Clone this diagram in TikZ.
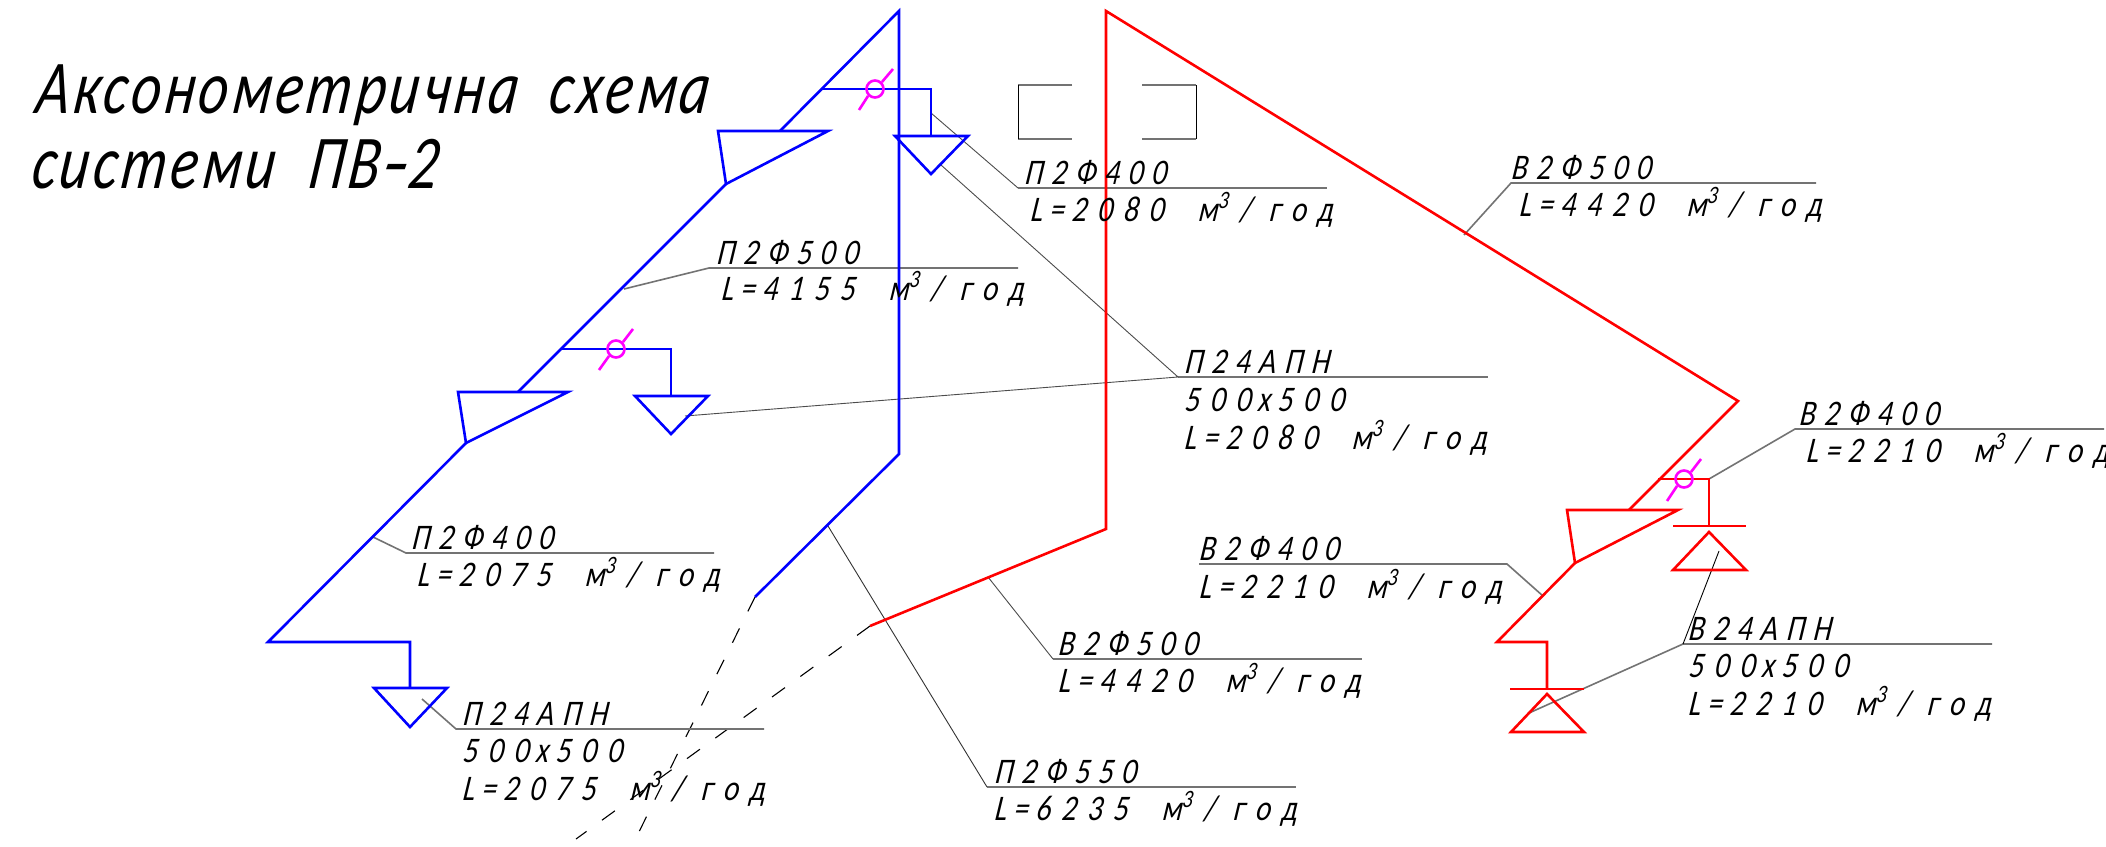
\documentclass[tikz,border=0pt]{standalone}
\usepackage{fontspec}
\newfontfamily\lblfont{Carlito}[LetterSpace=30,FakeSlant=0.14,FakeStretch=0.82]
\newfontfamily\topfont{Carlito}[LetterSpace=24,FakeSlant=0.14,FakeStretch=0.82]
\newfontfamily\ttlfont{Carlito}[LetterSpace=5,FakeSlant=0.14,FakeStretch=0.76]
\newcommand{\cub}{\raisebox{13pt}{\fontsize{25}{25}\selectfont 3}}
\newcommand{\flow}[1]{L\hspace{7pt}=\hspace{7pt}#1\hspace{34pt}м\cub\hspace{12pt}/\hspace{17pt}год}
\definecolor{vmag}{RGB}{255,0,255}
\definecolor{vblue}{RGB}{0,0,255}
\definecolor{vred}{RGB}{255,0,0}
\tikzset{
  pipeb/.style={draw=vblue,line width=2.6pt,line join=miter},
  piper/.style={draw=vred,line width=2.6pt,line join=miter},
  valve/.style={draw=vmag,line width=2.6pt},
  shelf/.style={draw=black!55,line width=1.6pt},
  thin leader/.style={draw=black,line width=0.9pt},
  gap dash/.style={draw=black,line width=1.1pt,dash pattern=on 16pt off 19pt},
  lbl/.style={inner sep=0pt,anchor=base west,font=\lblfont\itshape\fontsize{36}{36}\selectfont},
  lbltop/.style={inner sep=0pt,anchor=base west,font=\topfont\itshape\fontsize{36}{36}\selectfont},
  ttl/.style={inner sep=0pt,anchor=base west,font=\ttlfont\itshape\fontsize{76}{76}\selectfont}
}
\begin{document}
\begin{tikzpicture}[x=1pt,y=-1pt]
\useasboundingbox[fill=white] (0,0) rectangle (2106,846);
% title
\node[ttl] (t1) at (34,113) {Аксонометрична\hspace{32pt}схема};
\node[ttl] (t2) at (30,188) {системи\hspace{34pt}ПВ\hspace{1pt}\scalebox{1.5}[1]{-}\hspace{1pt}2};
% blue coordinates
\coordinate (bt) at (899,11);
\coordinate (bj1) at (821,89);
\coordinate (bc1) at (931,89);
\coordinate (bg1) at (931,136);
\coordinate (bg1l) at (895,136);
\coordinate (bg1r) at (968,136);
\coordinate (bg1a) at (931,174);
\coordinate (bx1) at (780,131);
\coordinate (bx1l) at (718,131);
\coordinate (bx1r) at (828,131);
\coordinate (bx1b) at (726,184);
\coordinate (bj2) at (561,349);
\coordinate (bc2) at (671,349);
\coordinate (bg2) at (671,396);
\coordinate (bg2l) at (635,396);
\coordinate (bg2r) at (708,396);
\coordinate (bg2a) at (671,434);
\coordinate (bx2) at (518,392);
\coordinate (bx2l) at (458,392);
\coordinate (bx2r) at (568,392);
\coordinate (bx2b) at (466,443);
\coordinate (bk) at (268,642);
\coordinate (bc3) at (410,642);
\coordinate (bg3) at (410,688);
\coordinate (bg3l) at (374,688);
\coordinate (bg3r) at (447,688);
\coordinate (bg3a) at (410,727);
\coordinate (bv) at (899,454);
\coordinate (bd) at (755,597);
\coordinate (bde) at (632,846);
% red coordinates
\coordinate (rt) at (1106,11);
\coordinate (rv) at (1106,529);
\coordinate (rd) at (870,626);
\coordinate (rde) at (576,839);
\coordinate (rr) at (1738,401);
\coordinate (rx1) at (1629,510);
\coordinate (rj1) at (1658,479);
\coordinate (rc1) at (1709,479);
\coordinate (rb1) at (1709,526);
\coordinate (rb1l) at (1673,526);
\coordinate (rb1r) at (1746,526);
\coordinate (rg1a) at (1709,532);
\coordinate (rg1l) at (1673,570);
\coordinate (rg1r) at (1746,570);
\coordinate (rx1l) at (1567,510);
\coordinate (rx1r) at (1678,510);
\coordinate (rx1b) at (1575,563);
\coordinate (rk) at (1497,642);
\coordinate (rc2) at (1547,642);
\coordinate (rb2) at (1547,689);
\coordinate (rb2l) at (1510,689);
\coordinate (rb2r) at (1584,689);
\coordinate (rg2a) at (1547,694);
\coordinate (rg2l) at (1511,732);
\coordinate (rg2r) at (1584,732);
% dashed continuation
\draw[gap dash] (bd) -- (bde);
\draw[gap dash] (rd) -- (rde);
% brackets
\coordinate (ba) at (1072,85); \coordinate (bb) at (1018,85);
\coordinate (bcc) at (1018,139); \coordinate (bdd) at (1072,139);
\coordinate (be) at (1142,85); \coordinate (bf) at (1196,85);
\coordinate (bgg) at (1196,139); \coordinate (bh) at (1142,139);
\draw[shelf] (ba) -- (bb) (bcc) -- (bdd) (be) -- (bf) (bgg) -- (bh);
\draw[thin leader] (bb) -- (bcc) (bf) -- (bgg);
% leaders and shelves
\coordinate (a1) at (931,113); \coordinate (a2) at (1018,188); \coordinate (a3) at (1327,188);
\draw[shelf] (a2) -- (a3);
\draw[thin leader,draw=black!70] (a1) -- (a2);
\coordinate (b1) at (624,289); \coordinate (b2) at (709,268); \coordinate (b3) at (1018,268);
\draw[shelf] (b1) -- (b2) -- (b3);
\coordinate (c1) at (941,165); \coordinate (c2) at (1178,377); \coordinate (c3) at (1488,377); \coordinate (c4) at (685,416);
\draw[shelf] (c2) -- (c3);
\draw[thin leader,draw=black!70] (c1) -- (c2) -- (c4);
\coordinate (d1) at (1464,235); \coordinate (d2) at (1511,183); \coordinate (d3) at (1816,183);
\draw[shelf] (d1) -- (d2) -- (d3);
\coordinate (e1) at (1709,479); \coordinate (e2) at (1795,429); \coordinate (e3) at (2104,429);
\draw[shelf] (e1) -- (e2) -- (e3);
\coordinate (f1) at (1529,713); \coordinate (f2) at (1683,644); \coordinate (f3) at (1992,644); \coordinate (f4) at (1719,551);
\draw[shelf] (f1) -- (f2) -- (f3);
\draw[thin leader] (f4) -- (f2);
\coordinate (g1) at (1199,564); \coordinate (g2) at (1507,564); \coordinate (g3) at (1543,596);
\draw[shelf] (g1) -- (g2) -- (g3);
\coordinate (h1) at (373,537); \coordinate (h2) at (406,553); \coordinate (h3) at (714,553);
\draw[shelf] (h1) -- (h2) -- (h3);
\coordinate (i1) at (422,699); \coordinate (i2) at (456,729); \coordinate (i3) at (764,729);
\draw[shelf] (i1) -- (i2) -- (i3);
\coordinate (j1) at (828,526); \coordinate (j2) at (987,787); \coordinate (j3) at (1296,787);
\draw[shelf] (j2) -- (j3);
\draw[thin leader,draw=black!80] (j1) -- (j2);
\coordinate (k1) at (988,577); \coordinate (k2) at (1053,659); \coordinate (k3) at (1362,659);
\draw[shelf] (k2) -- (k3);
\draw[thin leader,draw=black!70] (k1) -- (k2);
% blue ducts
\draw[pipeb] (bd) -- (bv) -- (bt) -- (bx1);
\draw[pipeb] (bx1l) -- (bx1r) -- (bx1b) -- cycle;
\draw[pipeb] (bj1) -- (bc1) -- (bg1);
\draw[pipeb] (bg1l) -- (bg1r) -- (bg1a) -- cycle;
\draw[pipeb] (bx1b) -- (bx2);
\draw[pipeb] (bj2) -- (bc2) -- (bg2);
\draw[pipeb] (bg2l) -- (bg2r) -- (bg2a) -- cycle;
\draw[pipeb] (bx2l) -- (bx2r) -- (bx2b) -- cycle;
\draw[pipeb] (bx2b) -- (bk) -- (bc3) -- (bg3);
\draw[pipeb] (bg3l) -- (bg3r) -- (bg3a) -- cycle;
% red ducts
\draw[piper] (rd) -- (rv) -- (rt) -- (rr) -- (rx1);
\draw[piper] (rx1l) -- (rx1r) -- (rx1b) -- cycle;
\draw[piper] (rj1) -- (rc1) -- (rb1);
\draw[piper] (rb1l) -- (rb1r);
\draw[piper] (rg1a) -- (rg1l) -- (rg1r) -- cycle;
\draw[piper] (rx1b) -- (rk) -- (rc2) -- (rb2);
\draw[piper] (rb2l) -- (rb2r);
\draw[piper] (rg2a) -- (rg2l) -- (rg2r) -- cycle;
% valves
\node[valve,circle,minimum size=17pt,inner sep=0pt] (v1) at (875,89) {};
\coordinate (v1a) at (859,110); \coordinate (v1b) at (893,69);
\draw[valve] (v1a) -- (v1.south west) (v1.north east) -- (v1b);
\node[valve,circle,minimum size=17pt,inner sep=0pt] (v2) at (616,349) {};
\coordinate (v2a) at (599,370); \coordinate (v2b) at (633,329);
\draw[valve] (v2a) -- (v2.south west) (v2.north east) -- (v2b);
\node[valve,circle,minimum size=17pt,inner sep=0pt] (v3) at (1684,479) {};
\coordinate (v3a) at (1667,501); \coordinate (v3b) at (1701,459);
\draw[valve] (v3a) -- (v3.south west) (v3.north east) -- (v3b);
% labels
\node[lbltop] (l1a) at (1024,184) {П2Ф400};
\node[lbl] (l1b) at (1030,221) {\flow{2080}};
\node[lbltop] (l2a) at (716,264) {П2Ф500};
\node[lbl] (l2b) at (721,300) {\flow{4155}};
\node[lbltop] (l3a) at (1184,373) {П24АПН};
\node[lbl] (l3b) at (1184,411) {500\hspace{7pt}x\hspace{7pt}500};
\node[lbl] (l3c) at (1184,449) {\flow{2080}};
\node[lbltop] (l4a) at (1511,179) {В2Ф500};
\node[lbl] (l4b) at (1519,216) {\flow{4420}};
\node[lbltop] (l5a) at (1799,425) {В2Ф400};
\node[lbl] (l5b) at (1806,462) {\flow{2210}};
\node[lbltop] (l6a) at (1199,560) {В2Ф400};
\node[lbl] (l6b) at (1199,598) {\flow{2210}};
\node[lbltop] (l7a) at (1688,640) {В24АПН};
\node[lbl] (l7b) at (1688,677) {500\hspace{7pt}x\hspace{7pt}500};
\node[lbl] (l7c) at (1688,715) {\flow{2210}};
\node[lbltop] (l8a) at (411,549) {П2Ф400};
\node[lbl] (l8b) at (417,586) {\flow{2075}};
\node[lbltop] (l9a) at (462,725) {П24АПН};
\node[lbl] (l9b) at (462,762) {500\hspace{7pt}x\hspace{7pt}500};
\node[lbl] (l9c) at (462,800) {\flow{2075}};
\node[lbltop] (l10a) at (1058,655) {В2Ф500};
\node[lbl] (l10b) at (1058,692) {\flow{4420}};
\node[lbltop] (l11a) at (994,783) {П2Ф550};
\node[lbl] (l11b) at (994,820) {\flow{6235}};
\end{tikzpicture}
\end{document}
